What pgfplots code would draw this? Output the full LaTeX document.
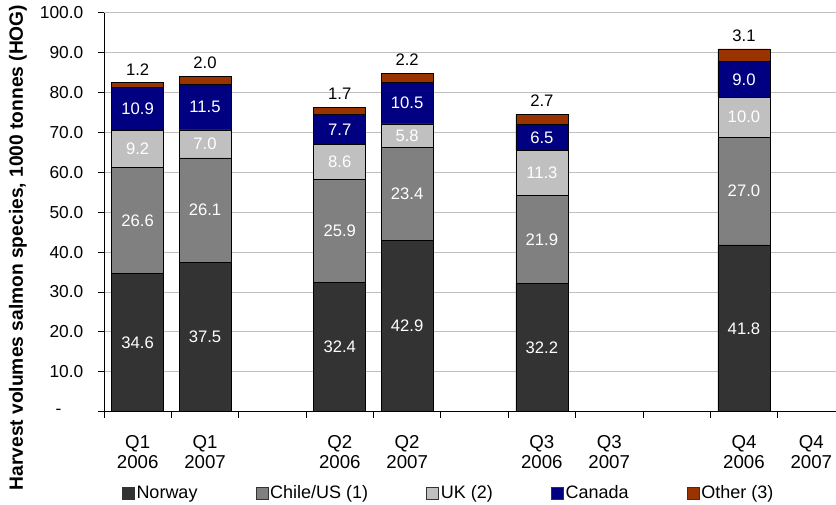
\documentclass[border=0pt]{standalone}
\usepackage{pgfplots}
\pgfplotsset{compat=1.18}
\usepackage{fontspec}
\setmainfont{Liberation Sans}
\definecolor{cNor}{HTML}{333333}
\definecolor{cChi}{HTML}{808080}
\definecolor{cUK}{HTML}{C0C0C0}
\definecolor{cCan}{HTML}{000080}
\definecolor{cOth}{HTML}{993300}
\pgfplotsset{
  centerlabel/.style={
    visualization depends on=rawy \as \rawy,
    nodes near coords={\pgfmathprintnumber[fixed,fixed zerofill,precision=1]{\rawy}},
    every node near coord/.style={font=\fontsize{12.5}{14}\selectfont, text=white, anchor=center}
  },
  toplabel/.style={
    visualization depends on=rawy \as \rawy,
    nodes near coords={\pgfmathprintnumber[fixed,fixed zerofill,precision=1]{\rawy}},
    every node near coord/.style={font=\fontsize{12.5}{14}\selectfont, text=black, anchor=south, yshift=\rawy*1.49625pt+2pt}
  }
}
\begin{document}
\begin{tikzpicture}
\path[use as bounding box] (-78pt,-70pt) rectangle (549pt,308.75pt);
\begin{axis}[
  at={(0,0)}, anchor=south west,
  scale only axis, width=555.75pt, height=299.25pt,
  ybar stacked, bar width=39pt,
  every axis plot/.append style={draw=black, line width=0.5pt,
    legend image code/.code={\draw[##1, draw=black!80, line width=0.5pt] (0pt,-4.5pt) rectangle (9pt,4.5pt);}},
  xmin=-0.5, xmax=10.5, ymin=0, ymax=100,
  axis lines=left, axis line style={-, black, line width=0.6pt},
  /pgf/number format/assume math mode=true,
  xtick={0,1,3,4,6,7,9,10},
  xticklabels={Q1\\2006,Q1\\2007,Q2\\2006,Q2\\2007,Q3\\2006,Q3\\2007,Q4\\2006,Q4\\2007},
  minor xtick={-0.5,0.5,...,10.5},
  tick align=outside,
  major tick length=4.5pt, minor tick length=4.5pt,
  tick style={black, line width=0.6pt},
  major x tick style={draw=none},
  xticklabel style={align=center, font=\fontsize{14}{14.6}\selectfont, yshift=-10pt},
  ytick={0,10,...,100},
  yticklabels={{-\hspace*{16.5pt}},10.0,20.0,30.0,40.0,50.0,60.0,70.0,80.0,90.0,100.0},
  yticklabel style={font=\fontsize{13}{15}\selectfont, xshift=-7.5pt},
  ymajorgrids, grid style={black!25, line width=0.6pt},
  ylabel={Harvest volumes salmon species, 1000 tonnes (HOG)},
  every axis y label/.style={at={([xshift=-64.5pt]rel axis cs:0,0.4115)}, rotate=90, anchor=center, font=\bfseries\fontsize{14.4}{16}\selectfont},
  legend columns=5,
  legend style={draw=none, fill=none, at={(0.465,-0.2038)}, anchor=center,
    font=\fontsize{13.5}{15}\selectfont,
    nodes={inner xsep=1.5pt},
    /tikz/every even column/.append style={column sep=42pt}},
]
\addplot[fill=cNor, centerlabel] coordinates {(0,34.6) (1,37.5) (3,32.4) (4,42.9) (6,32.2) (9,41.8)};
\addlegendentry{Norway}
\addplot[fill=cChi, centerlabel] coordinates {(0,26.6) (1,26.1) (3,25.9) (4,23.4) (6,21.9) (9,27.0)};
\addlegendentry{Chile/US (1)}
\addplot[fill=cUK, centerlabel] coordinates {(0,9.2) (1,7.0) (3,8.6) (4,5.8) (6,11.3) (9,10.0)};
\addlegendentry{UK (2)}
\addplot[fill=cCan, centerlabel] coordinates {(0,10.9) (1,11.5) (3,7.7) (4,10.5) (6,6.5) (9,9.0)};
\addlegendentry{Canada}
\addplot[fill=cOth, toplabel] coordinates {(0,1.2) (1,2.0) (3,1.7) (4,2.2) (6,2.7) (9,3.1)};
\addlegendentry{Other (3)}
\end{axis}
\end{tikzpicture}
\end{document}
